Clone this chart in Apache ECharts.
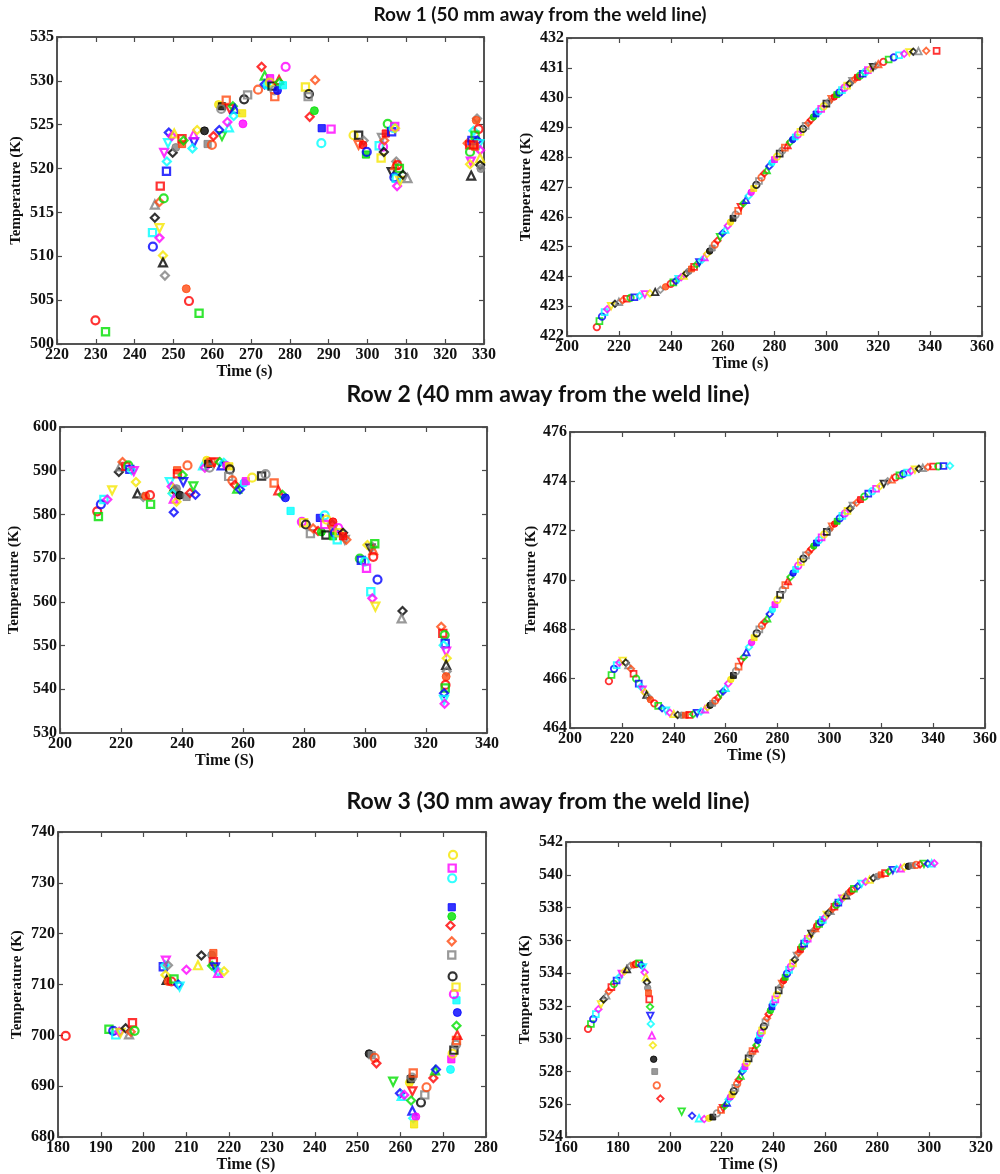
<!DOCTYPE html>
<html>
<head>
<meta charset="utf-8">
<script src="https://cdn.jsdelivr.net/npm/echarts@6/dist/echarts.min.js"></script>
<style>
html,body{margin:0;padding:0;background:#fff;}
#chart{width:1000px;height:1174px;}
</style>
</head>
<body>
<div id="chart"></div>
<script>
// ---------------- DATA ----------------
const rowTitles = [
  'Row 1 (50 mm away from the weld line)',
  'Row 2 (40 mm away from the weld line)',
  'Row 3 (30 mm away from the weld line)'
];
const yName = 'Temperature (K)';
const xNames = ['Time (s)', 'Time (s)', 'Time (S)', 'Time (S)', 'Time (S)', 'Time (S)'];

// Row 1 left: scattered measurements [time, temperature]
const row1Left = [
  [229.9,502.7],[232.5,501.4],[244.7,511.1],[244.6,512.7],[246.4,512.1],[246.4,513.2],[245.2,514.4],
  [245.2,515.9],[246.4,516.2],[246.6,518.0],[247.5,516.6],[248.2,519.7],[248.3,520.8],[247.6,521.8],
  [247.3,510.1],[247.3,509.3],[247.8,507.8],[253.3,506.3],[254.0,504.9],[256.6,503.5],[248.8,524.1],
  [248.6,522.9],[249.6,523.7],[250.2,524.0],[249.8,521.8],[250.6,522.4],[252.2,522.8],[252.2,523.4],
  [252.6,523.2],[255.3,523.0],[254.9,522.3],[255.2,523.9],[256.1,524.4],[258.0,524.3],[258.8,522.8],
  [259.9,522.7],[260.3,523.7],[262.5,523.7],[261.8,524.4],[264.3,524.7],[263.9,525.3],[261.6,527.3],
  [262.5,527.1],[262.3,526.8],[263.6,527.8],[264.5,526.8],[265.3,527.1],[265.8,526.8],[265.5,526.0],
  [267.9,525.1],[267.7,526.3],[268.2,527.9],[269.1,528.4],[271.8,529.0],[272.7,531.6],[273.5,530.6],
  [273.5,529.6],[274.1,529.5],[274.9,530.3],[274.8,529.8],[275.4,529.4],[276.0,528.9],[276.1,528.2],
  [277.2,530.1],[277.3,529.8],[276.8,528.9],[278.2,529.5],[278.9,531.6],[284.0,529.3],[284.9,528.5],
  [284.7,528.2],[286.5,530.1],[285.1,525.9],[286.3,526.6],[288.2,524.6],[288.1,522.9],[290.6,524.5],
  [296.4,523.8],[297.7,523.8],[299.0,523.2],[297.7,522.7],[298.8,522.7],[299.6,521.6],[299.8,521.9],
  [303.0,522.6],[304.0,522.5],[303.5,521.2],[304.2,521.9],[303.7,523.5],[304.3,523.2],[304.7,524.0],
  [305.2,525.1],[306.2,524.2],[306.7,524.6],[307.0,524.8],[307.1,524.6],[306.2,519.6],[307.4,520.8],
  [307.1,520.4],[307.7,520.4],[308.2,520.0],[306.9,519.0],[307.4,518.9],[307.6,518.0],[308.4,518.6],
  [309.1,519.3],[310.3,518.9],[325.8,522.9],[326.3,522.7],[326.4,521.9],[326.9,523.2],[327.3,524.3],
  [326.6,520.8],[326.4,520.5],[326.7,519.2],[328.2,525.7],[328.0,525.5],[328.6,524.5],[327.7,523.8],
  [328.3,523.2],[328.8,522.8],[329.0,522.1],[329.0,521.2],[329.0,520.4],[329.2,520.0],[327.7,522.5],
  [327.3,522.7]
];

// Row 1 right: simulated curve [time, temperature]
const row1Right = [
  [211.5,422.3],[212.5,422.5],[213.5,422.65],[214.5,422.8],[215.5,422.9],[217,423.0],[218.5,423.08],
  [220,423.15],[221.5,423.2],[223,423.25],[224.5,423.28],[226,423.3],[228,423.35],[230,423.4],
  [232,423.43],[234,423.48],[236,423.55],[238,423.65],[240,423.75],[241,423.8],[242,423.85],[243,423.91],
  [244,423.97],[245,424.03],[246,424.1],[247,424.17],[248,424.25],[249,424.32],[250,424.4],[251,424.47],
  [252,424.55],[253,424.65],[254,424.75],[255,424.85],[256,424.95],[257,425.07],[258,425.2],[259,425.32],
  [260,425.45],[261,425.57],[262,425.7],[263,425.82],[264,425.95],[265,426.07],[266,426.2],[267,426.32],
  [268,426.45],[269,426.57],[270,426.7],[271,426.82],[272,426.95],[273,427.07],[274,427.2],[275,427.32],
  [276,427.45],[277,427.57],[278,427.7],[279,427.81],[280,427.92],[281,428.02],[282,428.12],[283,428.22],
  [284,428.32],[285,428.41],[286,428.5],[287,428.59],[288,428.68],[289,428.76],[290,428.85],[291,428.95],
  [292,429.05],[293,429.15],[294,429.25],[295,429.35],[296,429.45],[297,429.54],[298,429.62],[299,429.71],
  [300,429.8],[301,429.87],[302,429.95],[303,430.02],[304,430.1],[305,430.17],[306,430.25],[307,430.33],
  [308,430.4],[309,430.48],[310,430.55],[311,430.62],[312,430.68],[313,430.74],[314,430.8],[315,430.86],
  [316,430.92],[317,430.97],[318,431.02],[319,431.07],[320,431.12],[322,431.2],[324,431.28],[326,431.35],
  [328,431.42],[330,431.47],[332,431.52],[333.5,431.54],[335.5,431.56],[338.5,431.57],[342.5,431.57]
];

// Row 2 left
const row2Left = [
  [212.2,580.7],[212.6,579.5],[213.4,582.3],[214.4,583.4],[215.5,583.4],[217.1,585.5],[219.3,589.7],
  [219.7,591.0],[220.5,592.0],[221.6,591.0],[222.4,591.2],[222.9,590.3],[223.5,590.1],[224.2,589.9],
  [224.9,587.4],[225.4,584.8],[227.3,584.0],[228.1,584.2],[229.5,584.4],[229.7,582.3],[237.3,580.5],
  [236.0,587.4],[236.6,586.4],[237.1,585.9],[237.6,585.5],[238.2,585.9],[238.4,590.1],[238.5,589.3],
  [240.2,589.0],[240.4,587.4],[236.9,584.8],[237.3,583.6],[238.2,582.9],[239.3,584.4],[241.5,584.0],
  [241.8,591.2],[242.6,584.9],[243.7,586.4],[244.4,584.5],[246.9,591.2],[247.5,590.7],[248.1,592.4],
  [248.6,591.6],[249.0,590.7],[249.5,591.9],[250.6,591.9],[252.4,592.0],[253.0,591.2],[253.7,591.8],
  [254.6,591.2],[255.5,591.0],[255.7,590.3],[255.3,588.7],[256.5,587.8],[257.3,586.8],[258.1,585.9],
  [259.0,585.7],[260.3,587.2],[260.9,587.6],[263.0,588.4],[266.1,588.8],[267.4,589.2],[270.2,587.2],
  [271.6,585.5],[272.9,584.5],[273.9,583.8],[275.6,580.8],[279.3,578.3],[279.9,578.1],[280.6,577.7],
  [282.1,575.6],[283.0,576.8],[284.6,576.2],[285.7,576.0],[285.2,579.2],[286.8,579.8],[286.8,577.7],
  [287.4,578.8],[287.2,575.3],[289.3,577.7],[289.3,576.4],[289.5,578.3],[289.5,575.0],[290.1,575.8],
  [290.9,574.2],[291.2,576.9],[291.5,575.8],[292.8,575.8],[293.4,574.2],[293.9,574.2],[292.8,575.0],
  [298.3,569.9],[298.8,569.5],[299.9,569.2],[300.5,567.7],[300.8,573.0],[301.8,572.2],[302.4,572.6],
  [302.7,571.8],[302.7,570.3],[303.2,573.3],[304.1,565.1],[301.9,562.3],[302.4,560.8],[303.4,558.9],
  [312.3,557.9],[312.0,556.2],[325.0,554.3],[325.5,552.8],[326.1,552.4],[326.3,550.5],[325.8,550.1],
  [326.6,548.6],[326.8,547.1],[326.6,545.6],[326.8,544.1],[326.6,542.9],[326.4,541.0],[326.3,540.3],
  [325.9,539.1],[325.9,537.6],[326.1,536.7]
];

// Row 2 right
const row2Right = [
  [215,465.9],[216,466.15],[217,466.4],[218,466.55],[219,466.65],[220.3,466.72],[221.5,466.65],
  [222.5,466.55],[223.5,466.4],[224.5,466.2],[225.5,466.0],[226.5,465.8],[227.3,465.67],[228,465.55],
  [228.8,465.45],[229.5,465.35],[230.3,465.25],[231,465.15],[232.5,465.0],[234,464.9],[235.5,464.8],
  [237,464.7],[238.5,464.62],[240,464.57],[241.5,464.53],[243,464.52],[244.5,464.52],[246,464.53],
  [247.5,464.56],[249,464.6],[250.5,464.67],[252,464.76],[253,464.84],[254,464.92],[255,465.0],
  [256,465.11],[257,465.23],[258,465.35],[259,465.48],[260,465.63],[261,465.8],[262,465.97],[263,466.13],
  [264,466.3],[265,466.49],[266,466.68],[267,466.87],[268,467.08],[269,467.28],[270,467.47],[271,467.66],
  [272,467.84],[273,468.0],[274,468.15],[275,468.3],[276,468.45],[277,468.62],[278,468.8],[279,469.0],
  [280,469.2],[281,469.4],[282,469.6],[283,469.79],[284,469.96],[285,470.12],[286,470.28],[287,470.43],
  [288,470.58],[289,470.73],[290,470.87],[291,471.0],[292,471.13],[293,471.26],[294,471.38],[295,471.5],
  [296,471.62],[297,471.73],[298,471.85],[299,471.95],[300,472.05],[301,472.16],[302,472.27],[303,472.38],
  [304,472.5],[305,472.6],[306,472.7],[307,472.8],[308,472.9],[309,473.0],[310.5,473.13],[312,473.26],
  [313.5,473.38],[315,473.5],[316.5,473.6],[318,473.7],[319.5,473.8],[321,473.9],[322.5,474.0],[324,474.08],
  [325.5,474.16],[327,474.24],[328.5,474.3],[330,474.36],[331.5,474.42],[333,474.47],[334.5,474.51],
  [336,474.55],[338,474.58],[340,474.6],[342,474.61],[344,474.62],[346.5,474.63]
];

// Row 3 left
const row3Left = [
  [181.8,699.9],[191.9,701.2],[192.9,700.9],[193.5,700.1],[194.3,700.7],[194.6,700.5],[195.8,701.4],
  [196.6,700.2],[197.0,700.7],[197.4,702.5],[197.9,700.9],[204.6,713.5],[205.0,713.8],[205.2,714.7],
  [205.1,711.9],[205.4,710.9],[205.7,713.8],[205.7,710.6],[206.5,710.6],[207.1,711.1],[208.1,710.0],
  [208.4,709.6],[210.0,712.9],[212.7,713.8],[213.5,715.7],[215.9,715.8],[216.3,716.2],[216.3,714.5],
  [216.0,713.7],[216.7,713.4],[217.4,712.6],[217.4,712.3],[218.8,712.6],[252.7,696.4],[253.3,696.1],
  [254.0,695.6],[254.4,694.5],[258.3,690.9],[259.9,688.6],[260.3,688.1],[260.9,688.3],[262.1,690.7],
  [262.4,691.4],[262.7,691.7],[263.0,692.6],[262.8,689.0],[262.5,687.2],[262.8,685.2],[263.0,683.7],
  [263.6,684.0],[263.2,682.5],[264.8,686.8],[265.7,688.3],[266.1,689.8],[267.7,691.6],[268.1,693.1],
  [268.3,693.3],[271.7,693.3],[271.9,695.3],[272.2,696.4],[272.5,697.1],[273.0,698.2],[273.1,699.0],
  [273.3,700.1],[273.1,701.9],[273.3,704.5],[273.1,706.9],[272.5,708.1],[273.0,709.5],[272.2,711.6],
  [272.0,715.8],[272.0,718.5],[271.7,721.6],[272.0,723.4],[272.0,725.2],[272.1,730.9],[272.1,732.9],
  [272.3,735.5]
];

// Row 3 right
const row3Right = [
  [168.5,530.6],[169.6,530.9],[170.5,531.2],[171.5,531.5],[172.5,531.8],[173.5,532.1],[174.5,532.4],
  [175.5,532.65],[176.5,532.9],[177.5,533.15],[178.5,533.35],[179.5,533.55],[180.5,533.75],[181.5,533.95],
  [182.5,534.1],[183.5,534.25],[184.8,534.45],[186,534.5],[187,534.55],[188.2,534.6],[189,534.5],
  [189.7,534.35],[190.3,534.05],[190.8,533.75],[191.2,533.45],[191.5,533.1],[191.8,532.8],[192.1,532.4],
  [192.4,531.95],[192.5,531.4],[192.7,530.9],[193.1,530.2],[193.5,529.6],[193.8,528.75],[194.2,528.0],
  [195.0,527.15],[196.4,526.35],[204.6,525.55],[208.6,525.3],[211.3,525.15],[213.3,525.1],[215.1,525.15],
  [216.6,525.22],[218.2,525.45],[219.8,525.65],[220.5,525.77],[221.2,525.9],[222.0,526.1],[222.7,526.3],
  [223.4,526.45],[224.0,526.6],[224.7,526.8],[225.3,527.0],[226.0,527.25],[226.6,527.5],[227.3,527.75],
  [227.9,528.0],[228.5,528.15],[229.0,528.3],[229.7,528.55],[230.4,528.8],[231.2,529.05],[231.9,529.25],
  [232.7,529.42],[233.4,529.6],[234.0,529.9],[234.6,530.2],[235.1,530.35],[235.6,530.5],[236.3,530.75],
  [236.9,531.0],[237.5,531.25],[238.1,531.5],[238.8,531.72],[239.4,531.95],[240.0,532.17],[240.7,532.4],
  [241.3,532.67],[242.0,532.95],[242.6,533.15],[243.3,533.35],[243.9,533.55],[244.5,533.75],[245.2,533.97],
  [246.0,534.2],[246.7,534.4],[247.5,534.6],[248.2,534.82],[249.0,535.05],[249.7,535.25],[250.4,535.45],
  [251.1,535.63],[251.8,535.8],[252.5,535.95],[253.2,536.1],[253.9,536.25],[254.6,536.4],[255.3,536.57],
  [256.1,536.75],[256.8,536.87],[257.6,537.0],[258.3,537.12],[259.0,537.25],[259.8,537.4],[260.5,537.55],
  [261.2,537.67],[262.0,537.8],[262.8,537.93],[263.5,538.05],[264.2,538.17],[265.0,538.3],[265.8,538.43],
  [266.5,538.55],[267.2,538.65],[268.0,538.75],[268.8,538.85],[269.5,538.95],[270.2,539.05],[271.0,539.15],
  [272.5,539.3],[274.0,539.45],[275.5,539.58],[277.0,539.7],[278.5,539.8],[280.0,539.9],[281.5,540.0],
  [283.0,540.1],[284.5,540.2],[286.0,540.28],[287.5,540.35],[289.0,540.4],[290.5,540.47],[292.0,540.52],
  [293.5,540.56],[295.0,540.6],[296.5,540.63],[298.0,540.66],[299.5,540.68],[301.0,540.7],[302.0,540.7]
];

// axis ranges: [xmin, xmax, xstep, ymin, ymax, ystep]
const axisRanges = [
  [220, 330, 10, 500, 535, 5],
  [200, 360, 20, 422, 432, 1],
  [200, 340, 20, 530, 600, 10],
  [200, 360, 20, 464, 476, 2],
  [180, 280, 10, 680, 740, 10],
  [160, 320, 20, 524, 542, 2]
];
const panelData = [row1Left, row1Right, row2Left, row2Right, row3Left, row3Right];

// ---------------- LAYOUT / STYLE ----------------
const grids = [
  {left: 57, top: 37, width: 427, height: 307},
  {left: 567, top: 38, width: 415, height: 298},
  {left: 60, top: 427, width: 427, height: 306},
  {left: 570, top: 432, width: 415, height: 296},
  {left: 58, top: 832, width: 428, height: 309},
  {left: 566, top: 842, width: 415, height: 298}
];
const yNameGap = [33, 33, 38, 28, 33, 33];
const xNameShift = [26, 34, 49, 21, 26, 25];
const xNameGap = [18, 16, 17, 18, 16, 16];
const markerSize = [8, 6.5, 8, 6.5, 8, 6.5];
const markerBorder = [2.2, 1.8, 2.2, 1.8, 2.2, 1.8];

const palette = ['#ff0000', '#00e000', '#0000ff', '#00ffff', '#ff00ff', '#f5e600', '#000000', '#808080', '#ff4a10'];
const shapes = ['circle', 'rect', 'diamond', 'circleF', 'rect', 'diamond', 'triangle', 'rectF', 'circle', 'triangleDown', 'diamond'];

function styled(points, size, bw) {
  return points.map(function (p, i) {
    const c = palette[i % palette.length];
    const s = shapes[(i * 4 + Math.floor(i / 9)) % shapes.length];
    const filled = s.endsWith('F');
    let sym = s.replace('F', '');
    let rot = 0;
    if (sym === 'triangleDown') { sym = 'triangle'; rot = 180; }
    return {
      value: p,
      symbol: sym,
      symbolRotate: rot,
      symbolSize: sym === 'rect' ? size * 0.9 : size,
      itemStyle: filled
        ? {color: c, borderColor: c, borderWidth: 1}
        : {color: 'rgba(255,255,255,0)', borderColor: c, borderWidth: bw}
    };
  });
}

const serif = '"Liberation Serif", "Times New Roman", serif';
const axisCol = '#4a4a4a';
const titleFont = '"Lato", "Open Sans", sans-serif';
const option = {
  backgroundColor: '#fff',
  animation: false,
  grid: grids.map(g => Object.assign({show: true, borderColor: axisCol, borderWidth: 1.5, backgroundColor: '#fff'}, g)),
  xAxis: [], yAxis: [], series: [],
  graphic: [
    {type: 'text', x: 540, y: 15, style: {text: rowTitles[0], font: 'bold 19px ' + titleFont, fill: '#111', textAlign: 'center', textVerticalAlign: 'middle'}},
    {type: 'text', x: 548, y: 395, style: {text: rowTitles[1], font: 'bold 23px ' + titleFont, fill: '#111', textAlign: 'center', textVerticalAlign: 'middle'}},
    {type: 'text', x: 548, y: 802, style: {text: rowTitles[2], font: 'bold 23px ' + titleFont, fill: '#111', textAlign: 'center', textVerticalAlign: 'middle'}}
  ]
};

for (let k = 0; k < 6; k++) {
  const r = axisRanges[k];
  const tick = {show: true, inside: true, length: 5, lineStyle: {color: axisCol, width: 1.2}};
  const line = {show: true, lineStyle: {color: axisCol, width: 1.5}};
  option.xAxis.push({
    type: 'value', gridIndex: k, position: 'bottom', min: r[0], max: r[1], interval: r[2],
    axisLine: line, axisTick: tick, splitLine: {show: false},
    axisLabel: {show: true, margin: 3, color: '#111', fontFamily: serif, fontWeight: 'bold', fontSize: 16},
    name: xNames[k], nameLocation: 'middle', nameGap: xNameGap[k],
    nameTextStyle: {color: '#111', fontFamily: serif, fontWeight: 'bold', fontSize: 16, padding: [0, xNameShift[k] * 2, 0, 0]}
  });
  option.xAxis.push({
    type: 'value', gridIndex: k, position: 'top', min: r[0], max: r[1], interval: r[2],
    axisLine: line, axisTick: tick, splitLine: {show: false}, axisLabel: {show: false}
  });
  option.yAxis.push({
    type: 'value', gridIndex: k, position: 'left', min: r[3], max: r[4], interval: r[5],
    axisLine: line, axisTick: tick, splitLine: {show: false},
    axisLabel: {show: true, margin: 3, color: '#111', fontFamily: serif, fontWeight: 'bold', fontSize: 16},
    name: yName, nameLocation: 'middle', nameGap: yNameGap[k], nameRotate: 90,
    nameTextStyle: {color: '#111', fontFamily: serif, fontWeight: 'bold', fontSize: 15}
  });
  option.yAxis.push({
    type: 'value', gridIndex: k, position: 'right', min: r[3], max: r[4], interval: r[5],
    axisLine: line, axisTick: tick, splitLine: {show: false}, axisLabel: {show: false}
  });
  option.series.push({
    type: 'scatter', xAxisIndex: k * 2, yAxisIndex: k * 2,
    data: styled(panelData[k], markerSize[k], markerBorder[k]),
    emphasis: {disabled: true}
  });
}

const chart = echarts.init(document.getElementById('chart'), null, {renderer: 'canvas'});
chart.setOption(option);
</script>
</body>
</html>
